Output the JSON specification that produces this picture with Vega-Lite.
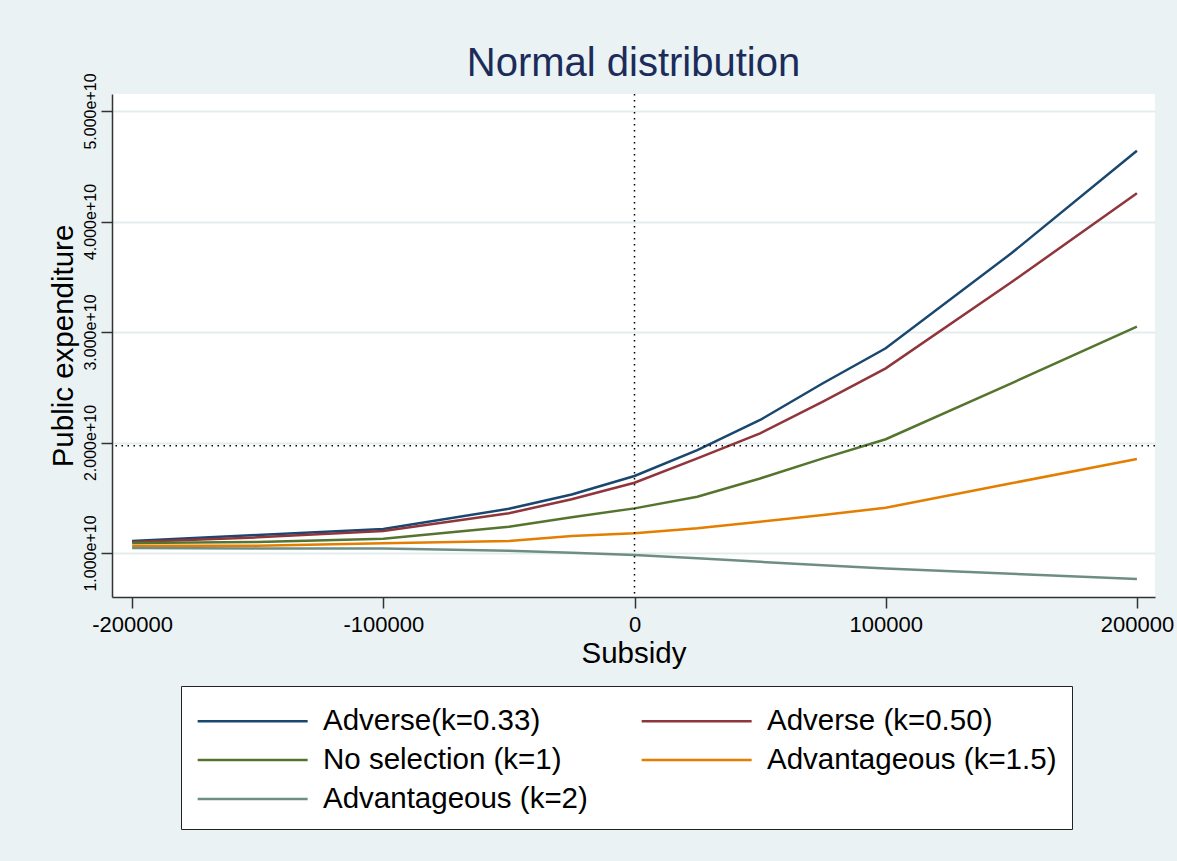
{
  "$schema": "https://vega.github.io/schema/vega-lite/v6.json",
  "width": 1043,
  "height": 503,
  "autosize": {"type": "none"},
  "padding": {"left": 112, "top": 94, "right": 22, "bottom": 264},
  "background": "#eaf2f3",
  "config": {
    "font": "Liberation Sans",
    "view": {"fill": "white", "stroke": null}
  },
  "title": {
    "text": "Normal distribution",
    "fontSize": 40,
    "fontWeight": "normal",
    "color": "#1c2c5a",
    "offset": -11,
    "anchor": "middle"
  },
  "datasets": {
    "curves": [
      {"x": -200000, "y": 11090000000, "s": "Adverse(k=0.33)"},
      {"x": -150000, "y": 11630000000, "s": "Adverse(k=0.33)"},
      {"x": -100000, "y": 12170000000, "s": "Adverse(k=0.33)"},
      {"x": -50000, "y": 14000000000, "s": "Adverse(k=0.33)"},
      {"x": -25000, "y": 15300000000, "s": "Adverse(k=0.33)"},
      {"x": 0, "y": 16970000000, "s": "Adverse(k=0.33)"},
      {"x": 25000, "y": 19320000000, "s": "Adverse(k=0.33)"},
      {"x": 50000, "y": 22040000000, "s": "Adverse(k=0.33)"},
      {"x": 75000, "y": 25360000000, "s": "Adverse(k=0.33)"},
      {"x": 100000, "y": 28530000000, "s": "Adverse(k=0.33)"},
      {"x": 150000, "y": 37120000000, "s": "Adverse(k=0.33)"},
      {"x": 200000, "y": 46410000000, "s": "Adverse(k=0.33)"},

      {"x": -200000, "y": 11000000000, "s": "Adverse (k=0.50)"},
      {"x": -150000, "y": 11420000000, "s": "Adverse (k=0.50)"},
      {"x": -100000, "y": 12000000000, "s": "Adverse (k=0.50)"},
      {"x": -50000, "y": 13600000000, "s": "Adverse (k=0.50)"},
      {"x": -25000, "y": 14860000000, "s": "Adverse (k=0.50)"},
      {"x": 0, "y": 16360000000, "s": "Adverse (k=0.50)"},
      {"x": 25000, "y": 18570000000, "s": "Adverse (k=0.50)"},
      {"x": 50000, "y": 20830000000, "s": "Adverse (k=0.50)"},
      {"x": 75000, "y": 23700000000, "s": "Adverse (k=0.50)"},
      {"x": 100000, "y": 26710000000, "s": "Adverse (k=0.50)"},
      {"x": 150000, "y": 34500000000, "s": "Adverse (k=0.50)"},
      {"x": 200000, "y": 42550000000, "s": "Adverse (k=0.50)"},

      {"x": -200000, "y": 10900000000, "s": "No selection (k=1)"},
      {"x": -150000, "y": 11000000000, "s": "No selection (k=1)"},
      {"x": -100000, "y": 11300000000, "s": "No selection (k=1)"},
      {"x": -50000, "y": 12380000000, "s": "No selection (k=1)"},
      {"x": -25000, "y": 13230000000, "s": "No selection (k=1)"},
      {"x": 0, "y": 14040000000, "s": "No selection (k=1)"},
      {"x": 25000, "y": 15100000000, "s": "No selection (k=1)"},
      {"x": 50000, "y": 16750000000, "s": "No selection (k=1)"},
      {"x": 75000, "y": 18570000000, "s": "No selection (k=1)"},
      {"x": 100000, "y": 20300000000, "s": "No selection (k=1)"},
      {"x": 150000, "y": 25360000000, "s": "No selection (k=1)"},
      {"x": 200000, "y": 30480000000, "s": "No selection (k=1)"},

      {"x": -200000, "y": 10660000000, "s": "Advantageous (k=1.5)"},
      {"x": -150000, "y": 10660000000, "s": "Advantageous (k=1.5)"},
      {"x": -100000, "y": 10880000000, "s": "Advantageous (k=1.5)"},
      {"x": -50000, "y": 11090000000, "s": "Advantageous (k=1.5)"},
      {"x": -25000, "y": 11540000000, "s": "Advantageous (k=1.5)"},
      {"x": 0, "y": 11780000000, "s": "Advantageous (k=1.5)"},
      {"x": 25000, "y": 12240000000, "s": "Advantageous (k=1.5)"},
      {"x": 50000, "y": 12830000000, "s": "Advantageous (k=1.5)"},
      {"x": 75000, "y": 13440000000, "s": "Advantageous (k=1.5)"},
      {"x": 100000, "y": 14100000000, "s": "Advantageous (k=1.5)"},
      {"x": 150000, "y": 16310000000, "s": "Advantageous (k=1.5)"},
      {"x": 200000, "y": 18510000000, "s": "Advantageous (k=1.5)"},

      {"x": -200000, "y": 10450000000, "s": "Advantageous (k=2)"},
      {"x": -150000, "y": 10420000000, "s": "Advantageous (k=2)"},
      {"x": -100000, "y": 10420000000, "s": "Advantageous (k=2)"},
      {"x": -50000, "y": 10210000000, "s": "Advantageous (k=2)"},
      {"x": -25000, "y": 10030000000, "s": "Advantageous (k=2)"},
      {"x": 0, "y": 9820000000, "s": "Advantageous (k=2)"},
      {"x": 25000, "y": 9520000000, "s": "Advantageous (k=2)"},
      {"x": 50000, "y": 9200000000, "s": "Advantageous (k=2)"},
      {"x": 75000, "y": 8900000000, "s": "Advantageous (k=2)"},
      {"x": 100000, "y": 8610000000, "s": "Advantageous (k=2)"},
      {"x": 150000, "y": 8130000000, "s": "Advantageous (k=2)"},
      {"x": 200000, "y": 7650000000, "s": "Advantageous (k=2)"}
    ]
  },
  "layer": [
    {
      "data": {"name": "curves"},
      "mark": {"type": "line", "strokeWidth": 2.5},
      "encoding": {
        "x": {
          "field": "x",
          "type": "quantitative",
          "title": "Subsidy",
          "scale": {"domain": [-208000, 207200], "nice": false, "zero": false},
          "axis": {
            "values": [-200000, -100000, 0, 100000, 200000],
            "labelExpr": "'' + datum.value",
            "labelFontSize": 22,
            "labelColor": "black",
            "labelFlush": false,
            "labelOverlap": false,
            "labelPadding": 6,
            "tickSize": 11,
            "tickWidth": 1.5,
            "tickColor": "#333333",
            "domainColor": "#333333",
            "domainWidth": 1.5,
            "grid": false,
            "titleFontSize": 29.5,
            "titleFontWeight": "normal",
            "titleColor": "black",
            "titlePadding": 4
          }
        },
        "y": {
          "field": "y",
          "type": "quantitative",
          "title": "Public expenditure",
          "scale": {"domain": [6020000000, 51540000000], "nice": false, "zero": false},
          "axis": {
            "values": [10000000000, 20000000000, 30000000000, 40000000000, 50000000000],
            "format": ".3e",
            "labelAngle": -90,
            "labelFontSize": 16,
            "labelColor": "black",
            "labelFlush": false,
            "labelOverlap": false,
            "labelPadding": 3,
            "tickSize": 11,
            "tickWidth": 1.5,
            "tickColor": "#333333",
            "domainColor": "#333333",
            "domainWidth": 1.5,
            "grid": true,
            "gridColor": "#e3edef",
            "gridWidth": 2,
            "titleFontSize": 29.5,
            "titleFontWeight": "normal",
            "titleColor": "black",
            "titlePadding": 4
          }
        },
        "color": {
          "field": "s",
          "type": "nominal",
          "scale": {
            "domain": ["Adverse(k=0.33)", "Adverse (k=0.50)", "No selection (k=1)", "Advantageous (k=1.5)", "Advantageous (k=2)"],
            "range": ["#1a476f", "#90353b", "#55752f", "#e37e00", "#6e8e84"]
          },
          "legend": {
            "orient": "none",
            "legendX": 69,
            "legendY": 592,
            "title": null,
            "direction": "horizontal",
            "columns": 2,
            "symbolType": "M-1,0H5",
            "symbolSize": 1344,
            "symbolStrokeWidth": 2.5,
            "labelFontSize": 29.5,
            "labelColor": "black",
            "labelOffset": 87,
            "labelLimit": 500,
            "columnPadding": 48,
            "rowPadding": 4,
            "padding": 15,
            "strokeColor": "#222222",
            "fillColor": "white"
          }
        }
      }
    },
    {
      "data": {"values": [{"x": 0}]},
      "mark": {"type": "rule", "color": "black", "strokeWidth": 1.5, "strokeDash": [1.5, 4.5]},
      "encoding": {"x": {"field": "x", "type": "quantitative", "title": "Subsidy"}}
    },
    {
      "data": {"values": [{"y": 19700000000}]},
      "mark": {"type": "rule", "color": "black", "strokeWidth": 1.5, "strokeDash": [1.5, 4.5]},
      "encoding": {"y": {"field": "y", "type": "quantitative", "title": "Public expenditure"}}
    }
  ]
}
